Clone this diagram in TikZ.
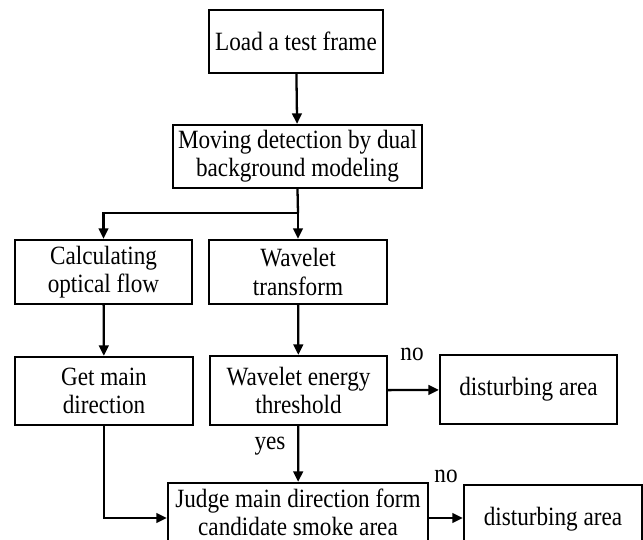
\documentclass[tikz,border=0pt]{standalone}
\usepackage{fontspec}
\setmainfont{Liberation Serif}[FakeStretch=0.88]
\usetikzlibrary{arrows.meta}

\begin{document}
\begin{tikzpicture}[x=0.02cm,y=-0.02cm,
    box/.style={draw, line width=1.3pt, align=center, inner sep=0pt,
                font=\fontsize{15}{16}\selectfont},
    arr/.style={line width=1.3pt, -{Triangle[length=6pt,width=5.5pt]}},
    lab/.style={font=\fontsize{15}{16}\selectfont}]
        \useasboundingbox (0,0) rectangle (643,539);

        \node[box, minimum width=3.48cm, minimum height=1.26cm] (load) at (296,41.5) {Load a test frame};
        \node[box, minimum width=4.98cm, minimum height=1.26cm] (model) at (297.5,156.5)
            {Moving detection by dual\\background modeling};

        \node[box, minimum width=3.54cm, minimum height=1.28cm] (flow) at (103.5,272)
            {Calculating\\optical flow};
        \node[box, minimum width=3.56cm, minimum height=1.28cm] (wavelet) at (298,272)
            {Wavelet\\transform};

        \node[box, minimum width=3.56cm, minimum height=1.36cm] (dir) at (104,391)
            {Get main\\direction};
        \node[box, minimum width=3.54cm, minimum height=1.38cm] (energy) at (298.5,390.5)
            {Wavelet energy\\threshold};
        \node[box, minimum width=3.54cm, minimum height=1.38cm] (dist1) at (528.5,389.5)
            {disturbing area};

        % box runs past the bottom edge, as in the scan
        \node[box, minimum width=5.2cm, minimum height=1.16cm] (judge) at (298,512)
            {Judge main direction form\\candidate smoke area};
        \node[box, minimum width=3.56cm, minimum height=1.38cm] (dist2) at (553,519.5)
            {disturbing area};

        \coordinate (split) at (298,213);
        \coordinate (jin) at ([yshift=-0.12cm]judge.west);
        \coordinate (jout) at ([yshift=-0.12cm]judge.east);

        \draw[arr] (load) -- (model);
        \draw[line width=1.3pt] (model.south) -- (split);
        \draw[arr] (split) -- (wavelet);
        \draw[arr] (split) -| (flow);
        \draw[arr] (flow) -- (dir);
        \draw[arr] (wavelet) -- (energy);
        \draw[arr] (energy) -- (dist1);
        \draw[arr] (energy) -- (judge);
        \draw[arr] (dir.south) |- (jin);
        \draw[arr] (jout) -- (dist2.west |- jout);

        \node[lab] (no1) at (412,354) {no};
        \node[lab] (no2) at (446,476) {no};
        \node[lab] (yes) at (270,446) {yes};
    \end{tikzpicture}
\end{document}
